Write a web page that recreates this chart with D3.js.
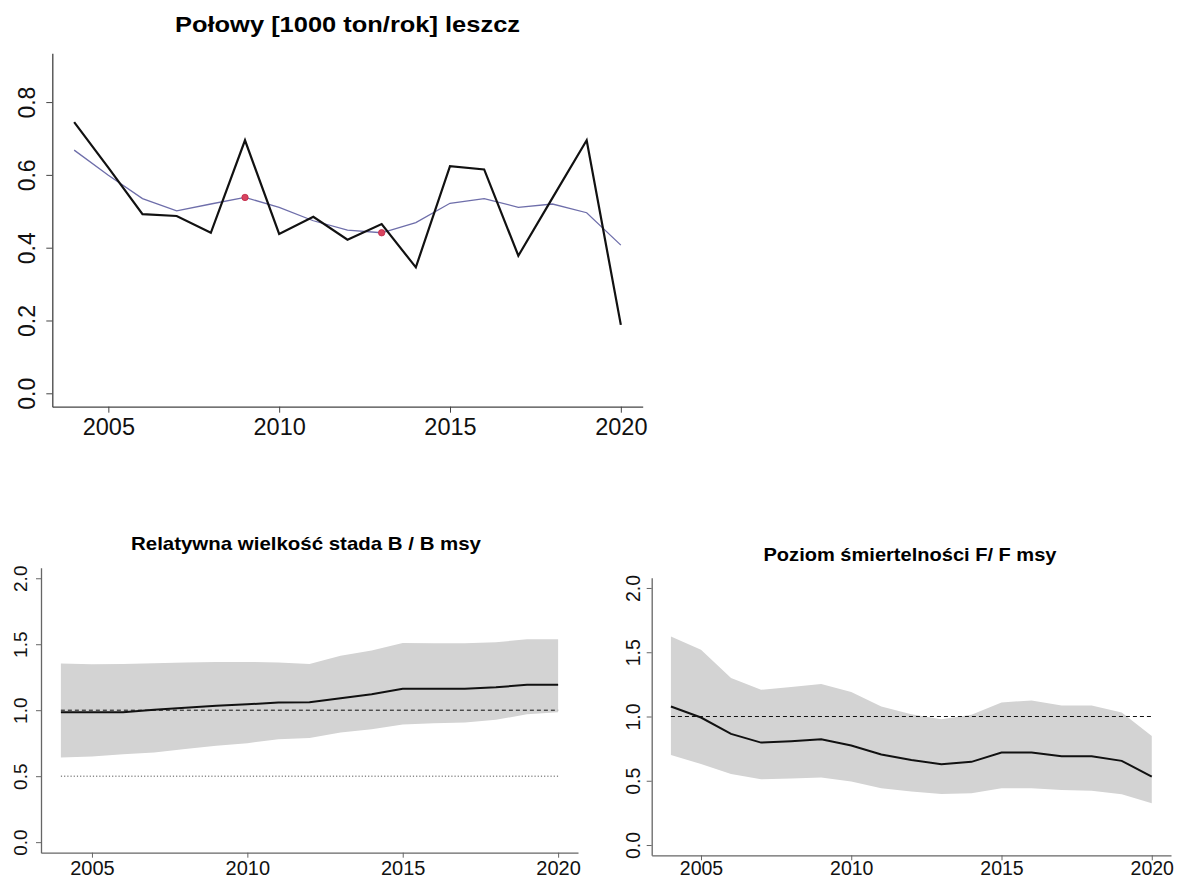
<!DOCTYPE html>
<html>
<head>
<meta charset="utf-8">
<script src="https://cdn.jsdelivr.net/npm/d3@7/dist/d3.min.js"></script>
<style>
  html, body { margin: 0; padding: 0; background: #fff; }
  svg { display: block; font-family: "Liberation Sans", Arial, Helvetica, sans-serif; }
</style>
</head>
<body>
<svg id="chart" width="1178" height="880"></svg>
<script>
// ---------- data ----------
const years = [2004, 2005, 2006, 2007, 2008, 2009, 2010, 2011, 2012, 2013, 2014, 2015, 2016, 2017, 2018, 2019, 2020];

// Połowy [1000 ton/rok]
const catchValues  = [0.745, 0.620, 0.492, 0.487, 0.441, 0.695, 0.438, 0.485, 0.422, 0.465, 0.346, 0.624, 0.615, 0.378, 0.537, 0.695, 0.188];
const catchSmooth  = [0.668, 0.599, 0.535, 0.501, 0.520, 0.538, 0.511, 0.474, 0.448, 0.441, 0.469, 0.522, 0.535, 0.511, 0.520, 0.496, 0.407];
const markedYears  = [2009, 2013];

// B / B msy
const bRatio = [0.985, 0.985, 0.985, 1.003, 1.018, 1.033, 1.045, 1.058, 1.061, 1.091, 1.121, 1.162, 1.162, 1.162, 1.174, 1.192, 1.192];
const bUpper = [1.354, 1.348, 1.351, 1.356, 1.361, 1.366, 1.366, 1.361, 1.351, 1.412, 1.452, 1.510, 1.508, 1.508, 1.515, 1.538, 1.538];
const bLower = [0.641, 0.649, 0.667, 0.679, 0.705, 0.730, 0.750, 0.780, 0.790, 0.831, 0.856, 0.891, 0.902, 0.907, 0.927, 0.970, 0.985];

// F / F msy
const fRatio = [1.078, 0.992, 0.865, 0.797, 0.808, 0.823, 0.774, 0.704, 0.662, 0.629, 0.647, 0.719, 0.719, 0.691, 0.691, 0.655, 0.532];
const fUpper = [1.623, 1.519, 1.299, 1.208, 1.229, 1.252, 1.190, 1.078, 1.018, 0.979, 1.013, 1.109, 1.125, 1.086, 1.086, 1.031, 0.849];
const fLower = [0.701, 0.631, 0.553, 0.512, 0.517, 0.525, 0.494, 0.442, 0.416, 0.397, 0.403, 0.442, 0.442, 0.429, 0.423, 0.395, 0.325];

// tick labels / reference lines
const xTicks = [2005, 2010, 2015, 2020];
const catchTicks = [0.0, 0.2, 0.4, 0.6, 0.8];
const ratioTicks = [0.0, 0.5, 1.0, 1.5, 2.0];
const titles = ["Połowy [1000 ton/rok] leszcz", "Relatywna wielkość stada B / B msy", "Poziom śmiertelności F/ F msy"];
const bRefLines = [{ v: 1.0, dash: "4,3" }, { v: 0.5, dash: "1.2,2" }];
const fRefLines = [{ v: 1.0, dash: "4,3" }];

// ---------- helpers ----------
const svg = d3.select("#chart");
const xPad = (d3.max(years) - d3.min(years)) * 0.04;
const xDomain = [d3.min(years) - xPad, d3.max(years) + xPad];

function drawAxes(g, x, y, yTickVals, opt) {
  const xa = g.append("g").attr("transform", `translate(0,${opt.bottom})`)
    .call(d3.axisBottom(x).tickValues(xTicks).tickFormat(d3.format("d"))
      .tickSizeInner(opt.tick).tickSizeOuter(0));
  xa.select(".domain").attr("stroke", opt.axisColor).attr("stroke-width", 1.3);
  xa.selectAll(".tick line").attr("stroke", opt.axisColor).attr("stroke-width", 1);
  xa.selectAll(".tick text")
    .attr("y", opt.xLabelY).attr("dy", 0)
    .attr("fill", "#111").attr("font-size", opt.xFont + "px")
    .attr("font-family", "'Liberation Sans', Arial, sans-serif");

  const ya = g.append("g").attr("transform", `translate(${opt.left},0)`)
    .call(d3.axisLeft(y).tickValues(yTickVals).tickFormat(d3.format(".1f"))
      .tickSizeInner(opt.tick).tickSizeOuter(0));
  ya.select(".domain").attr("stroke", opt.axisColor).attr("stroke-width", 1.3);
  ya.selectAll(".tick line").attr("stroke", opt.axisColor).attr("stroke-width", 1);
  ya.selectAll(".tick text")
    .attr("transform", "rotate(-90)")
    .attr("x", 0).attr("y", -opt.yLabelOff).attr("dy", 0)
    .attr("text-anchor", "middle")
    .attr("fill", "#111").attr("font-size", opt.yFont + "px")
    .attr("font-family", "'Liberation Sans', Arial, sans-serif");
}

function title(text, x, y, size, width) {
  svg.append("text").attr("x", x).attr("y", y)
    .attr("text-anchor", "middle").attr("font-weight", "bold")
    .attr("font-size", size + "px").attr("fill", "#000")
    .attr("textLength", width).attr("lengthAdjust", "spacingAndGlyphs")
    .text(text);
}

// ---------- panel 1: catches ----------
{
  const P = { left: 52.3, right: 642.7, top: 53.3, bottom: 406.7 };
  const x = d3.scaleLinear().domain(xDomain).range([P.left, P.right]);
  const y = d3.scaleLinear().domain([-0.0368, 0.934]).range([P.bottom, P.top]);
  const g = svg.append("g");

  const line = d3.line().x((d, i) => x(years[i])).y(d => y(d));
  g.append("path").datum(catchSmooth).attr("d", line)
    .attr("fill", "none").attr("stroke", "#6e6eaa").attr("stroke-width", 1.3);
  g.append("path").datum(catchValues).attr("d", line)
    .attr("fill", "none").attr("stroke", "#111").attr("stroke-width", 2.2)
    .attr("stroke-linejoin", "miter");
  g.selectAll("circle.mark").data(markedYears).join("circle")
    .attr("class", "mark")
    .attr("cx", d => x(d))
    .attr("cy", d => y(catchSmooth[years.indexOf(d)]))
    .attr("r", 3.2).attr("fill", "#d8435f").attr("stroke", "#c02848").attr("stroke-width", 0.8);

  drawAxes(g, x, y, catchTicks, { left: P.left, bottom: P.bottom, tick: 6, axisColor: "#444",
    xLabelY: 28.5, yLabelOff: 17.3, xFont: 23.5, yFont: 23 });
  title(titles[0], (P.left + P.right) / 2, 31.5, 22, 345);
}

// ---------- panel 2: B / B msy ----------
{
  const P = { left: 41, right: 578, top: 567.7, bottom: 852.7 };
  const x = d3.scaleLinear().domain(xDomain).range([P.left, P.right]);
  const y = d3.scaleLinear().domain([-0.08, 2.08]).range([P.bottom, P.top]);
  const g = svg.append("g");

  const area = d3.area().x((d, i) => x(years[i])).y0((d, i) => y(bLower[i])).y1(d => y(d));
  g.append("path").datum(bUpper).attr("d", area).attr("fill", "#d3d3d3");
  bRefLines.forEach(r => {
    g.append("line").attr("x1", x(years[0])).attr("x2", x(years[years.length - 1]))
      .attr("y1", y(r.v)).attr("y2", y(r.v))
      .attr("stroke", r.v === 1 ? "#111" : "#555").attr("stroke-width", 1)
      .attr("stroke-dasharray", r.dash);
  });
  const line = d3.line().x((d, i) => x(years[i])).y(d => y(d));
  g.append("path").datum(bRatio).attr("d", line)
    .attr("fill", "none").attr("stroke", "#111").attr("stroke-width", 2);

  drawAxes(g, x, y, ratioTicks, { left: P.left, bottom: P.bottom, tick: 5, axisColor: "#666",
    xLabelY: 22.5, yLabelOff: 14.3, xFont: 20, yFont: 19 });
  title(titles[1], 306, 550, 19, 350);
}

// ---------- panel 3: F / F msy ----------
{
  const P = { left: 651.7, right: 1171, top: 577.7, bottom: 855.3 };
  const x = d3.scaleLinear().domain(xDomain).range([P.left, P.right]);
  const y = d3.scaleLinear().domain([-0.08, 2.08]).range([P.bottom, P.top]);
  const g = svg.append("g");

  const area = d3.area().x((d, i) => x(years[i])).y0((d, i) => y(fLower[i])).y1(d => y(d));
  g.append("path").datum(fUpper).attr("d", area).attr("fill", "#d3d3d3");
  fRefLines.forEach(r => {
    g.append("line").attr("x1", x(years[0])).attr("x2", x(years[years.length - 1]))
      .attr("y1", y(r.v)).attr("y2", y(r.v))
      .attr("stroke", "#111").attr("stroke-width", 1).attr("stroke-dasharray", r.dash);
  });
  const line = d3.line().x((d, i) => x(years[i])).y(d => y(d));
  g.append("path").datum(fRatio).attr("d", line)
    .attr("fill", "none").attr("stroke", "#111").attr("stroke-width", 2);

  drawAxes(g, x, y, ratioTicks, { left: P.left, bottom: P.bottom, tick: 5, axisColor: "#666",
    xLabelY: 19.5, yLabelOff: 11.7, xFont: 19.5, yFont: 19.5 });
  title(titles[2], 910, 561, 19, 293);
}
</script>
</body>
</html>
